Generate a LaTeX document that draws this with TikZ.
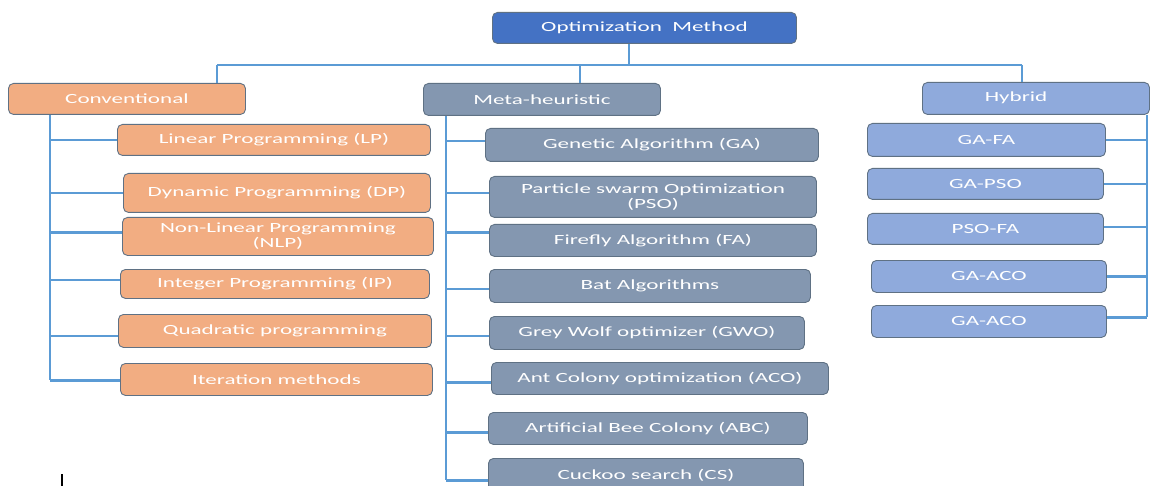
\documentclass[tikz,border=0pt]{standalone}
\usepackage{fontspec}
\setmainfont[FakeStretch=1.65]{Carlito}
\definecolor{topc}{HTML}{4472C4}
\definecolor{orc}{HTML}{F2AD82}
\definecolor{metac}{HTML}{8497B0}
\definecolor{hybc}{HTML}{8FAADC}
\definecolor{connc}{HTML}{5B9BD5}
\definecolor{bordc}{HTML}{5F7184}
\tikzset{
  bx/.style={draw=bordc, line width=0.9pt, rounded corners=5pt, text=white,
    font=\fontsize{14}{15}\selectfont, align=center, inner sep=0pt, anchor=north west},
  conn/.style={draw=connc, line width=2.8pt},
  plain/.style={text=white, font=\fontsize{14}{15}\selectfont, inner sep=0pt}
}
\newcommand{\mybox}[7]{\node[bx, fill=#2, minimum width={(#5-#3)*1pt}, minimum height={(#6-#4)*1pt}] (#1) at (#3,#4) {#7};}
\begin{document}
\begin{tikzpicture}[x=1pt,y=-1pt]
\path[use as bounding box] (0,0) rectangle (1150,486);
\clip (0,0) rectangle (1150,486);
\fill[white] (0,0) rectangle (1150,486);
% bus
\coordinate (busL) at (217,65);
\coordinate (busR) at (1022,65);
\coordinate (tj) at (629,65);
\coordinate (mj) at (580,65);
\coordinate (ct) at (50,0);
\coordinate (mt) at (446,0);
\coordinate (ht) at (1147,0);
% top
\mybox{top}{topc}{492}{12}{796}{43}{Optimization\ \ Method}
% level 1
\mybox{conv}{orc}{8}{83}{245}{114}{Conventional}
\mybox{meta}{metac}{423}{83}{660}{115}{Meta-heuristic}
\mybox{hyb}{hybc}{922}{82}{1149}{114}{}
\node[plain] (hyblabel) at (1016,98) {Hybrid};
% conventional children
\mybox{lp}{orc}{117}{124}{430}{155}{Linear Programming (LP)}
\mybox{dp}{orc}{123}{173}{430}{212}{Dynamic Programming (DP)}
\mybox{nlp}{orc}{122}{217}{433}{255}{Non-Linear Programming\\(NLP)}
\mybox{ip}{orc}{120}{269}{429}{298}{Integer Programming (IP)}
\mybox{qp}{orc}{118}{314}{431}{347}{Quadratic programming}
\mybox{iter}{orc}{120}{363}{432}{395}{Iteration methods}
% meta children
\mybox{ga}{metac}{485}{128}{818}{161}{Genetic Algorithm (GA)}
\mybox{pso}{metac}{489}{176}{816}{217}{Particle swarm Optimization\\(PSO)}
\mybox{fa}{metac}{489}{224}{816}{256}{Firefly Algorithm (FA)}
\mybox{bat}{metac}{489}{269}{810}{302}{Bat Algorithms}
\mybox{gwo}{metac}{489}{316}{804}{349}{Grey Wolf optimizer (GWO)}
\mybox{aco}{metac}{491}{362}{828}{394}{Ant Colony optimization (ACO)}
\mybox{abc}{metac}{488}{412}{807}{444}{Artificial Bee Colony (ABC)}
\mybox{cs}{metac}{488}{458}{803}{492}{Cuckoo search (CS)}
% hybrid children
\mybox{gafa}{hybc}{867}{123}{1105}{156}{GA-FA}
\mybox{gapso}{hybc}{867}{168}{1103}{199}{GA-PSO}
\mybox{psofa}{hybc}{867}{213}{1103}{244}{PSO-FA}
\mybox{gaaco}{hybc}{871}{260}{1106}{292}{GA-ACO}
\mybox{gaacob}{hybc}{871}{305}{1106}{337}{GA-ACO}
% connectors
\draw[conn] (tj|-top.south) -- (tj);
\draw[conn] (busL) -- (busR);
\draw[conn] (busL) -- (busL|-conv.north);
\draw[conn] (mj) -- (mj|-meta.north);
\draw[conn] (busR) -- (busR|-hyb.north);
% conventional trunk
\draw[conn] (ct|-conv.south) -- ([yshift=-1pt]ct|-iter.west);
\foreach \n/\d in {lp/0,dp/0,nlp/4,ip/4,qp/-5,iter/-1}
  \draw[conn] ([yshift=\d pt]ct|-\n.west) -- ([yshift=\d pt]\n.west);
% meta trunk
\draw[conn] (mt|-meta.south) -- ([yshift=-5pt]mt|-cs.west);
\foreach \n/\d in {ga/4,pso/4,fa/8,bat/-3,gwo/-3,aco/-4,abc/-4,cs/-5}
  \draw[conn] ([yshift=\d pt]mt|-\n.west) -- ([yshift=\d pt]\n.west);
% hybrid trunk
\draw[conn] (ht|-hyb.south) -- ([yshift=4pt]ht|-gaacob.east);
\foreach \n/\d in {gafa/0,gapso/0,psofa/2,gaaco/0,gaacob/4}
  \draw[conn] ([yshift=\d pt]ht|-\n.east) -- ([yshift=\d pt]\n.east);
% stray mark
\draw[line width=1.1pt, black] (62,474) -- (62,486);
\end{tikzpicture}
\end{document}
